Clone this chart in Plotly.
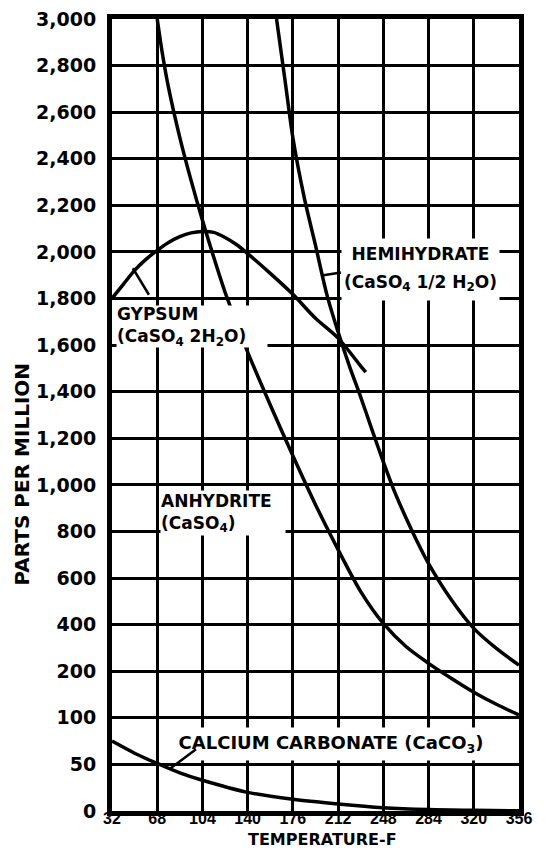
import numpy as np
import plotly.graph_objects as go

# ---- axis ticks (the y scale is non-uniform: equal spacing between these values)
Y_TICK_VALUES = [0, 50, 100, 200, 400, 600, 800, 1000, 1200, 1400, 1600,
                 1800, 2000, 2200, 2400, 2600, 2800, 3000]
Y_TICK_TEXT = ["0", "50", "100", "200", "400", "600", "800", "1,000", "1,200",
               "1,400", "1,600", "1,800", "2,000", "2,200", "2,400", "2,600",
               "2,800", "3,000"]
X_TICK_VALUES = [32, 68, 104, 140, 176, 212, 248, 284, 320, 356]

# ---- series (temperature F, parts per million)
gypsum_t = [32, 41, 50, 59, 68, 77, 86, 95, 104, 113, 122, 131, 140, 158, 176, 194, 212, 230, 234]
gypsum_ppm = [1801, 1861, 1921, 1968, 2007, 2041, 2066, 2082, 2088, 2084, 2062, 2032, 1993,
              1908, 1818, 1715, 1630, 1510, 1484]

anhydrite_t = [68, 72, 77, 86, 95, 104, 113, 122, 131, 140, 158, 176, 194, 212, 230, 248,
               266, 284, 302, 320, 338, 356]
anhydrite_ppm = [3000, 2855, 2705, 2491, 2306, 2136, 1977, 1827, 1698, 1570, 1343, 1125, 915,
                 722, 542, 405, 306, 234, 185, 155, 129, 106]

hemihydrate_t = [163, 170, 176, 185, 194, 203, 212, 221, 230, 239, 248, 257, 266, 275, 284,
                 302, 320, 338, 356]
hemihydrate_ppm = [3000, 2726, 2490, 2234, 2028, 1818, 1656, 1510, 1377, 1236, 1099, 970, 859,
                   756, 662, 508, 384, 298, 226]

caco3_t = [32, 50, 68, 86, 104, 140, 176, 212, 248, 284, 320, 356]
caco3_ppm = [75, 62, 51, 41, 33, 20, 12.5, 7.5, 3.5, 1.5, 0.7, 0.3]

TICK_POS = list(range(len(Y_TICK_VALUES)))


def yscale(v):
    return float(np.interp(v, Y_TICK_VALUES, TICK_POS))


fig = go.Figure()
for t, p in [(gypsum_t, gypsum_ppm), (anhydrite_t, anhydrite_ppm),
             (hemihydrate_t, hemihydrate_ppm), (caco3_t, caco3_ppm)]:
    fig.add_trace(go.Scatter(x=t, y=[yscale(v) for v in p], mode="lines",
                             line=dict(color="black", width=3.5, shape="spline", smoothing=0.8),
                             hoverinfo="skip", showlegend=False, cliponaxis=True))

LBL = dict(family="DejaVu Sans, sans-serif", size=17, color="black", weight="bold")

# labels with white boxes (hide grid behind)
fig.add_annotation(x=277.6, y=yscale(1990), xref="x", yref="y", yanchor="middle",
                   text="HEMIHYDRATE", showarrow=False, font=LBL, bgcolor="white",
                   width=157, height=30, borderpad=0, valign="middle")
fig.add_annotation(x=277.6, y=yscale(1866), xref="x", yref="y", yanchor="middle",
                   text="(CaSO<sub>4</sub> 1/2 H<sub>2</sub>O)", showarrow=False, font=LBL,
                   bgcolor="white", width=157, height=34, borderpad=0, valign="middle")
fig.add_annotation(x=32, y=yscale(1682), xref="x", yref="y", xanchor="left", yanchor="middle",
                   text="GYPSUM<br>(CaSO<sub>4</sub> 2H<sub>2</sub>O)", xshift=4,
                   showarrow=False, font=LBL, bgcolor="white", align="left",
                   width=150, height=41, borderpad=0)
fig.add_annotation(x=70, y=yscale(880), xref="x", yref="y", xanchor="left", yanchor="middle",
                   text="ANHYDRITE<br>(CaSO<sub>4</sub>)",
                   showarrow=False, font=LBL, bgcolor="white", align="left",
                   width=124, height=44, borderpad=0)
fig.add_annotation(x=206, y=yscale(72), xref="x", yref="y", yanchor="middle",
                   text="CALCIUM CARBONATE (CaCO<sub>3</sub>)",
                   showarrow=False, font=dict(LBL, size=18), bgcolor="white", align="center",
                   width=324, height=32, borderpad=0)

# leader lines
for (lx, lv, ax, ay) in [(48.6, 1930, 17, 28), (200.3, 1900, 19, -3), (77.8, 45, 28, -21)]:
    fig.add_annotation(x=lx, y=yscale(lv), xref="x", yref="y",
                       ax=ax, ay=ay, axref="pixel", ayref="pixel", text="",
                       showarrow=True, arrowhead=0, arrowwidth=2.5, arrowcolor="black",
                       standoff=0, startstandoff=0)

# axis titles
fig.add_annotation(x=-0.221, y=0.425, xref="paper", yref="paper", xanchor="center",
                   yanchor="middle", text="PARTS PER MILLION", textangle=-90, showarrow=False,
                   font=dict(family="DejaVu Sans, sans-serif", size=20, color="black", weight="bold"))
fig.add_annotation(x=0.518, y=-0.036, xref="paper", yref="paper", xanchor="center",
                   yanchor="middle", text="TEMPERATURE-F", showarrow=False,
                   font=dict(family="DejaVu Sans, sans-serif", size=16, color="black", weight="bold"))

fig.update_xaxes(range=[32, 356], tickvals=X_TICK_VALUES, ticktext=[str(v) for v in X_TICK_VALUES],
                 showgrid=True, gridcolor="black", gridwidth=2.5, zeroline=False,
                 showline=True, mirror=True, linecolor="black", linewidth=5,
                 ticks="", ticklabelstandoff=-11, automargin=False, ticklabeloverflow="allow",
                 tickfont=dict(family="Liberation Sans, Arial, sans-serif", size=16, color="black", weight="bold"),
                 fixedrange=True)
fig.update_yaxes(range=[0, 17], tickvals=TICK_POS, ticktext=Y_TICK_TEXT,
                 showgrid=True, gridcolor="black", gridwidth=2.5, zeroline=False,
                 showline=True, mirror=True, linecolor="black", linewidth=5,
                 ticks="", ticklabelstandoff=7, automargin=False, ticklabeloverflow="allow",
                 tickfont=dict(family="DejaVu Sans, sans-serif", size=19, color="black", weight="bold"),
                 fixedrange=True)

# the page body adds an 8px offset, so the margins are shifted to compensate
fig.update_layout(width=545, height=867, margin=dict(l=104, r=34, t=11, b=64, autoexpand=False),
                  paper_bgcolor="white", plot_bgcolor="white", showlegend=False)

fig.write_html("out.html")
